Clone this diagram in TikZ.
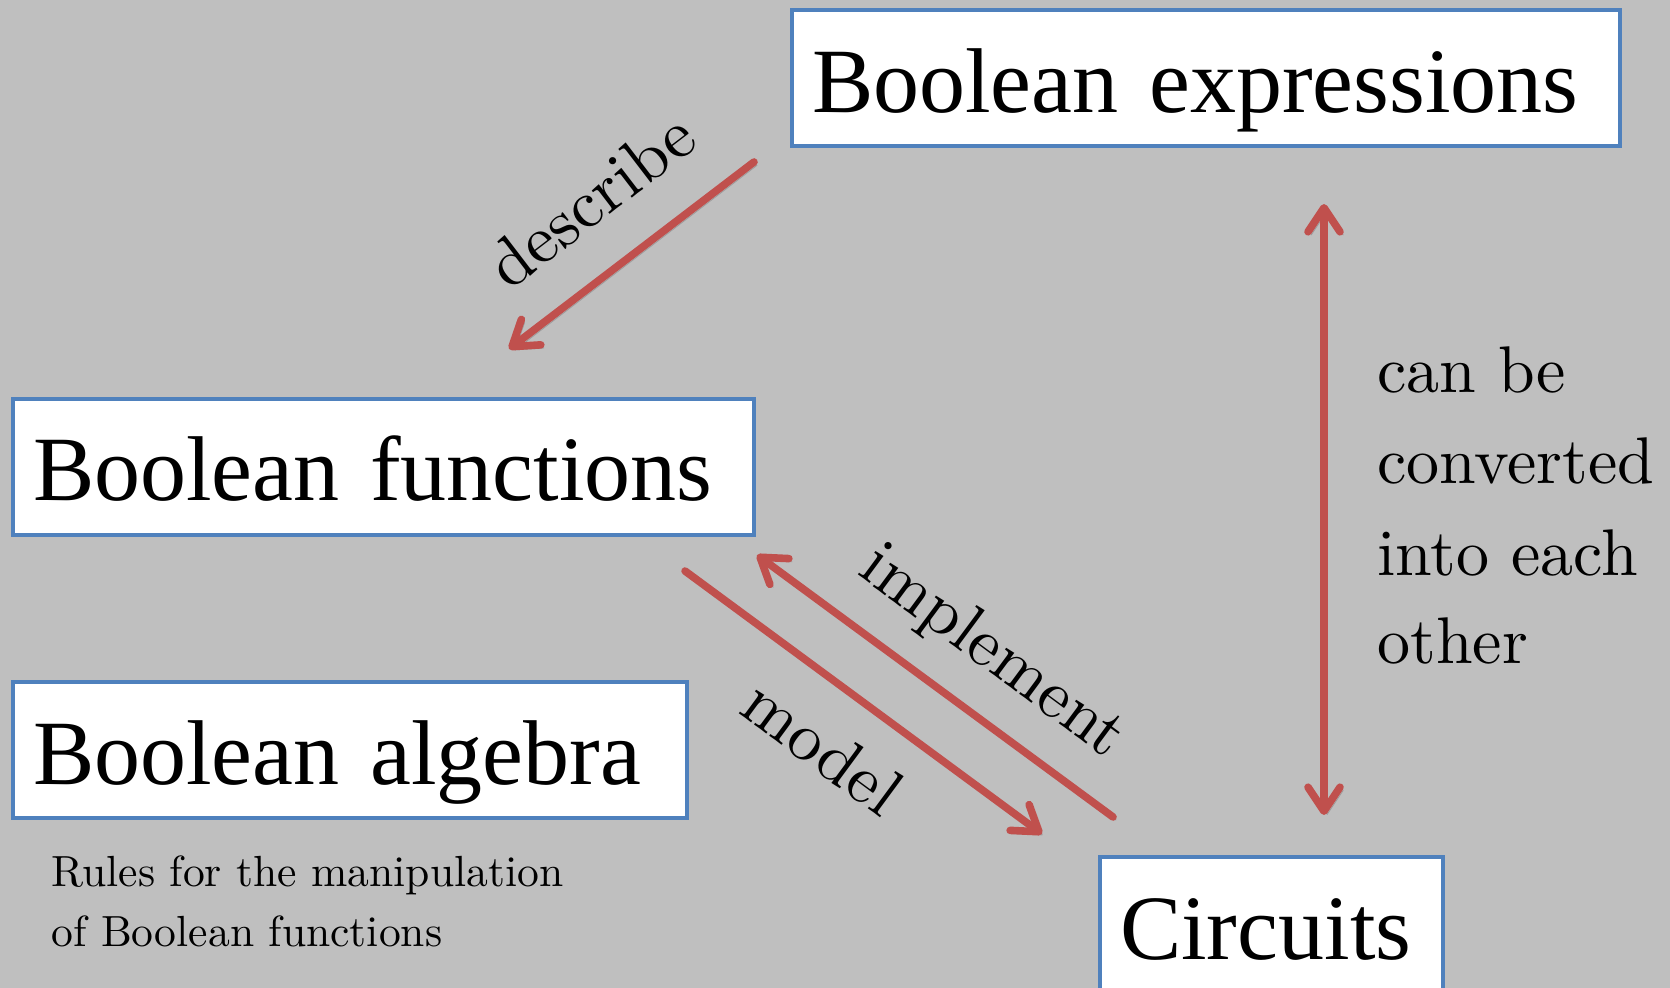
\documentclass[tikz,border=0pt]{standalone}
\usepackage{fontspec}
\newfontfamily\boxfont{Liberation Serif}
\newfontfamily\labelfont{lmroman10-regular.otf}
\usetikzlibrary{arrows.meta}

\definecolor{slidegray}{RGB}{191,191,191}
\definecolor{boxblue}{RGB}{79,129,189}
\definecolor{arrowred}{RGB}{192,80,77}

\tikzset{
  conceptbox/.style={draw=boxblue, line width=2pt, fill=white,
    anchor=north west, inner xsep=10pt, inner ysep=0pt,
    minimum height=68pt, align=left,
    font=\boxfont\fontsize{46}{52}\selectfont,
    text height=40pt, text depth=6pt},
  relation/.style={arrowred, line width=3.8pt, line cap=round,
    -{Straight Barb[length=12pt, width=16pt, line cap=round, line join=round]},
    preaction={draw=black, opacity=0.18,
      transform canvas={shift={(1.6pt,-1.6pt)}}}},
  relationboth/.style={relation,
    {Straight Barb[length=12pt, width=16pt, line cap=round, line join=round]}-{Straight Barb[length=12pt, width=16pt, line cap=round, line join=round]}},
  label/.style={inner sep=0pt, font=\labelfont\fontsize{34}{45}\selectfont},
  note/.style={inner sep=0pt, anchor=base west, font=\labelfont\fontsize{33}{45}\selectfont},
  rule/.style={inner sep=0pt, anchor=base west, font=\labelfont\fontsize{21.8}{30}\selectfont}
}

\begin{document}
\begin{tikzpicture}[x=0.5pt, y=-0.5pt]
  % page and background
  \useasboundingbox (0,0) rectangle (1670,988);
  \fill[slidegray] (0,0) rectangle (1670,988);

  % concept boxes
  \node[conceptbox, text width=394pt] (expr) at (790,8.5) {Boolean expressions};
  \node[conceptbox, text width=350.5pt] (func) at (11,397) {Boolean functions};
  \node[conceptbox, text width=317pt] (alg) at (11,680) {Boolean algebra};
  \node[conceptbox, text width=151.5pt] (circ) at (1098,855) {Circuits};

  % arrow end points
  \coordinate (describeA) at (754,162);
  \coordinate (describeB) at (509,349);
  \coordinate (modelA) at (685,571);
  \coordinate (modelB) at (1042,834);
  \coordinate (implA) at (1113,817);
  \coordinate (implB) at (757,555);
  \coordinate (convA) at (1324,815);
  \coordinate (convB) at (1324,204);

  % relations
  \draw[relation] (describeA) -- (describeB);
  \draw[relation] (modelA) -- (modelB);
  \draw[relation] (implA) -- (implB);
  \draw[relationboth] (convA) -- (convB);

  % relation labels
  \node[label, rotate=37.4] (describe) at (591,200) {describe};
  \node[label, rotate=-36.5] (implement) at (992,653) {implement};
  \node[label, rotate=-36.4] (model) at (823,747) {model};

  \node[note] (conv1) at (1377,393) {can be};
  \node[note] (conv2) at (1377,484) {converted};
  \node[note] (conv3) at (1377,575) {into each};
  \node[note] (conv4) at (1377,663) {other};

  % note under the algebra box
  \node[rule] (rule1) at (51,886) {Rules for the manipulation};
  \node[rule] (rule2) at (51,946) {of Boolean functions};
\end{tikzpicture}
\end{document}
